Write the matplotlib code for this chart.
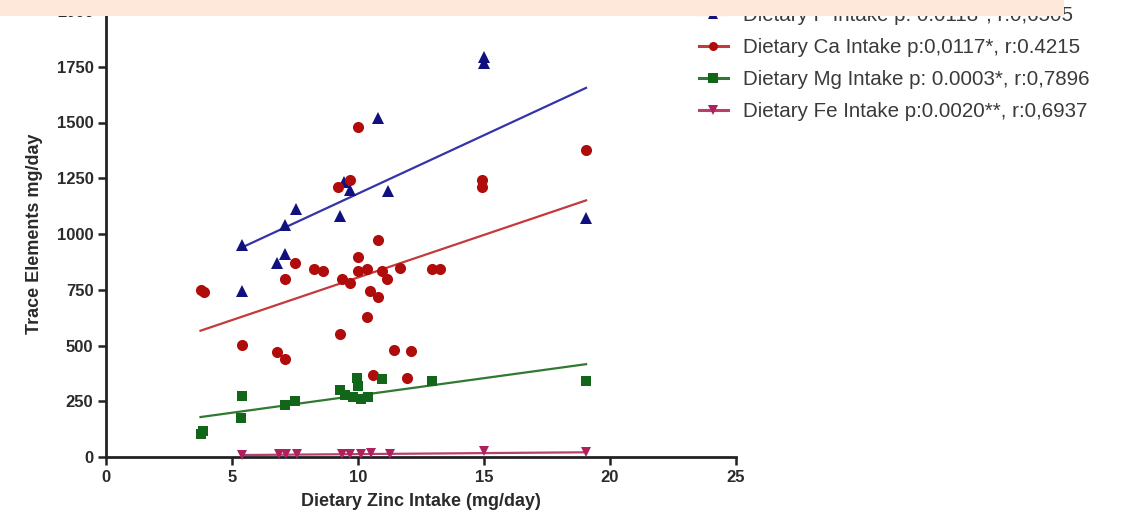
import matplotlib
matplotlib.use("Agg")
import matplotlib.pyplot as plt
from matplotlib.patches import Rectangle
from matplotlib.lines import Line2D
import numpy as np

plt.rcParams['font.family'] = ['Liberation Sans', 'DejaVu Sans']

# ---- data ----
p_x = [5.4, 5.4, 6.8, 7.1, 7.1, 7.55, 9.3, 9.45, 9.7, 10.8, 11.2, 15.0, 15.0, 19.05]
p_y = [745, 951, 871, 911, 1040, 1113, 1082, 1234, 1198, 1522, 1194, 1768, 1795, 1073]

ca_x = [3.75, 3.9, 5.4, 6.8, 7.1, 7.1, 7.5, 8.25, 8.6, 9.2, 9.3, 9.37, 9.68, 9.68, 10.0,
        10.0, 10.0, 10.37, 10.37, 10.47, 10.6, 10.79, 10.79, 10.96, 11.16, 11.43, 11.67,
        11.93, 12.12, 12.95, 13.26, 14.94, 14.94, 19.05]
ca_y = [750, 740, 503, 473, 438, 799, 872, 844, 836, 1213, 552, 797, 780, 1240, 1478,
        896, 832, 844, 630, 746, 368, 717, 974, 836, 797, 480, 847,
        353, 476, 842, 842, 1243, 1210, 1378]

mg_x = [3.75, 3.85, 5.36, 5.4, 7.1, 7.5, 9.3, 9.5, 9.8, 9.97, 10.0, 10.1, 10.4, 10.96, 12.95, 19.05]
mg_y = [105, 118, 174, 274, 233, 251, 300, 278, 271, 355, 320, 262, 271, 349, 341, 343]

fe_x = [5.4, 6.85, 7.13, 7.57, 9.37, 9.7, 10.1, 10.5, 11.27, 15.0, 19.05]
fe_y = [10, 12, 14, 12, 15, 14, 15, 18, 13, 25, 24]

# fitted lines (intercept, slope)
p_fit = (657, 52.4)
ca_fit = (423, 38.2)
mg_fit = (121, 15.5)
fe_fit = (4, 0.9)

labels = ["Dietary P Intake p: 0.0118*, r:0,6505",
          "Dietary Ca Intake p:0,0117*, r:0.4215",
          "Dietary Mg Intake p: 0.0003*, r:0,7896",
          "Dietary Fe Intake p:0.0020**, r:0,6937"]

x_ticks = [0, 5, 10, 15, 20, 25]
y_ticks = [0, 250, 500, 750, 1000, 1250, 1500, 1750, 2000]

# ---- styling ----
W, H = 1135, 526
fig = plt.figure(figsize=(W / 100, H / 100), dpi=100)
ax = fig.add_axes([106 / W, 1 - 457 / H, (736 - 106) / W, (457 - 11) / H])

series = [
    (p_x, p_y, p_fit, '^', '#10107e', '#3434a8', 8.5),
    (ca_x, ca_y, ca_fit, 'o', '#b00c0c', '#c43a3a', 8.0),
    (mg_x, mg_y, mg_fit, 's', '#12661a', '#2f7a30', 7.5),
    (fe_x, fe_y, fe_fit, 'v', '#b0205e', '#b8406e', 7.5),
]

handles = []
for xs, ys, fit, mk, mcol, lcol, ms in series:
    xs = np.asarray(xs); ys = np.asarray(ys)
    ax.plot(xs, ys, linestyle='none', marker=mk, color=mcol, markersize=ms,
            markeredgewidth=0, zorder=3, clip_on=False)
    xl = np.array([xs.min(), xs.max()])
    ax.plot(xl, fit[0] + fit[1] * xl, color=lcol, linewidth=1.6, zorder=2, clip_on=False)
    handles.append(Line2D([], [], color=lcol, linewidth=2.2, marker=mk,
                          markerfacecolor=mcol, markeredgewidth=0, markersize=6.5))

ax.set_xlim(0, 25)
ax.set_ylim(0, 2000)
ax.set_xticks(x_ticks)
ax.set_yticks(y_ticks)
for s in ['top', 'right']:
    ax.spines[s].set_visible(False)
for s in ['left', 'bottom']:
    ax.spines[s].set_linewidth(2.0)
    ax.spines[s].set_color('#222222')
ax.tick_params(direction='out', length=6, width=1.8, color='#222222',
               labelsize=12, labelcolor='#2a2a2a', pad=3)
for lab in ax.get_xticklabels() + ax.get_yticklabels():
    lab.set_fontweight('bold')

ax.set_xlabel("Dietary Zinc Intake (mg/day)", fontsize=13, fontweight='bold',
              color='#2a2a2a', labelpad=6)
ax.set_ylabel("Trace Elements mg/day", fontsize=13, fontweight='bold',
              color='#2a2a2a', labelpad=10)

leg = fig.legend(handles, labels, loc='upper left',
                 bbox_to_anchor=(699 / W, 1 - 6 / H), frameon=False,
                 fontsize=14.8, handlelength=1.4, handletextpad=0.72,
                 labelspacing=0.64, borderaxespad=0, borderpad=0)
for t in leg.get_texts():
    t.set_color('#3a3a3a')

# cropped banner at the top
fig.patches.append(Rectangle((0, 1 - 16 / H), 1064 / W, 16 / H,
                             transform=fig.transFigure, facecolor='#fde8d9',
                             edgecolor='none', zorder=20))

fig.savefig("out.png", dpi=100)
